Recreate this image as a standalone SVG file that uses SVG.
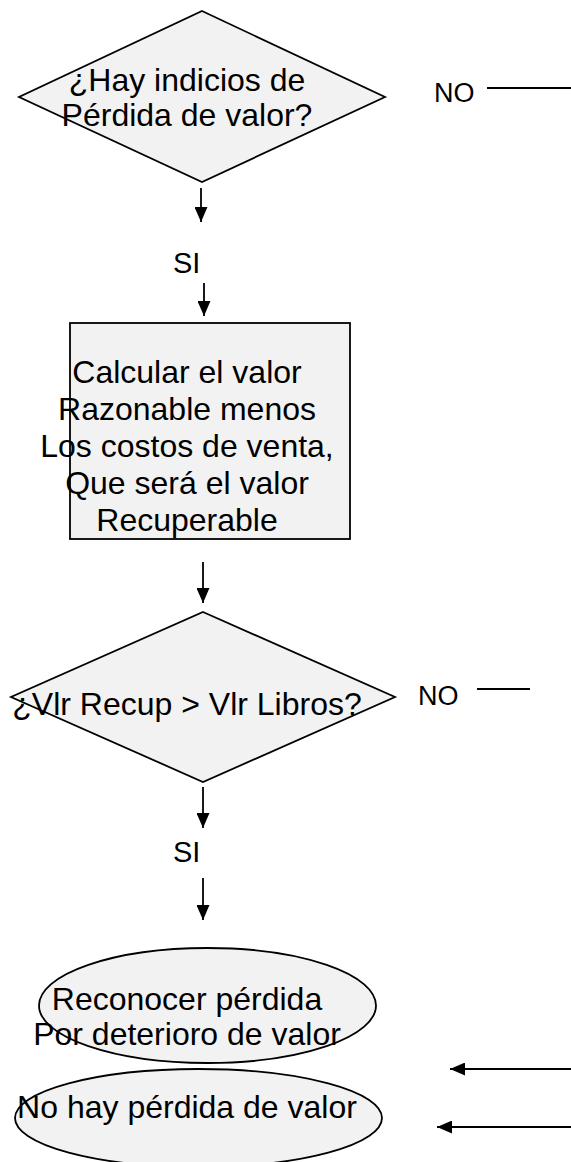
<svg xmlns="http://www.w3.org/2000/svg" width="571" height="1162" viewBox="0 0 571 1162">
  <style>
    .shape { fill: #f2f2f2; stroke: #000; stroke-width: 1.8; }
    .label { font-family: "Liberation Sans", Arial, sans-serif; font-size: 32px; fill: #000; text-anchor: middle; }
    .tag { font-family: "Liberation Sans", Arial, sans-serif; font-size: 27px; fill: #000; }
    .tag.si { font-size: 29px; }
    .wire { stroke: #000; stroke-width: 1.8; fill: none; }
  </style>
  <defs>
    <marker id="head" markerUnits="userSpaceOnUse" markerWidth="15" markerHeight="13" refX="15" refY="6.5" orient="auto">
      <path d="M0,0 L15,6.5 L0,13 z" fill="#000"/>
    </marker>
  </defs>
  <rect width="571" height="1162" fill="#fff"/>

  <!-- decision: signs of impairment -->
  <g id="decision-indicios">
    <polygon class="shape" points="202,11 385,97 202,182 19,97"/>
    <text class="label" x="187" y="91">¿Hay indicios de</text>
    <text class="label" x="187" y="126">Pérdida de valor?</text>
  </g>

  <!-- process: compute recoverable amount -->
  <g id="process-calcular">
    <rect class="shape" x="70" y="323" width="280" height="216"/>
    <text class="label" x="187" y="383">Calcular el valor</text>
    <text class="label" x="187" y="420">Razonable menos</text>
    <text class="label" x="187" y="457">Los costos de venta,</text>
    <text class="label" x="187" y="494">Que será el valor</text>
    <text class="label" x="187" y="531">Recuperable</text>
  </g>

  <!-- decision: recoverable vs book value -->
  <g id="decision-comparar">
    <polygon class="shape" points="203,612 395,697 203,782 11,697"/>
    <text class="label" x="187" y="715">¿Vlr Recup &gt; Vlr Libros?</text>
  </g>

  <!-- terminal: recognise impairment loss -->
  <g id="end-reconocer">
    <ellipse class="shape" cx="207.5" cy="1005.5" rx="168.5" ry="57.5"/>
    <text class="label" x="187" y="1010">Reconocer pérdida</text>
    <text class="label" x="187" y="1045">Por deterioro de valor</text>
  </g>

  <!-- terminal: no impairment -->
  <g id="end-sin-perdida">
    <ellipse class="shape" cx="198.5" cy="1118" rx="183.5" ry="49"/>
    <text class="label" x="187" y="1118">No hay pérdida de valor</text>
  </g>

  <!-- branch labels -->
  <g id="labels">
    <text class="tag" x="434" y="102">NO</text>
    <text class="tag si" x="173" y="273">SI</text>
    <text class="tag" x="418" y="705">NO</text>
    <text class="tag si" x="173" y="862">SI</text>
  </g>

  <!-- connectors -->
  <g id="connectors">
    <line class="wire" x1="201" y1="188" x2="201" y2="222" marker-end="url(#head)"/>
    <line class="wire" x1="204" y1="283" x2="204" y2="316" marker-end="url(#head)"/>
    <line class="wire" x1="203" y1="562" x2="203" y2="603" marker-end="url(#head)"/>
    <line class="wire" x1="203" y1="787" x2="203" y2="828" marker-end="url(#head)"/>
    <line class="wire" x1="203" y1="878" x2="203" y2="920" marker-end="url(#head)"/>
    <line class="wire" x1="487" y1="88" x2="571" y2="88"/>
    <line class="wire" x1="477" y1="689" x2="530" y2="689"/>
    <line class="wire" x1="571" y1="1069" x2="450" y2="1069" marker-end="url(#head)"/>
    <line class="wire" x1="571" y1="1127" x2="437" y2="1127" marker-end="url(#head)"/>
  </g>
</svg>
